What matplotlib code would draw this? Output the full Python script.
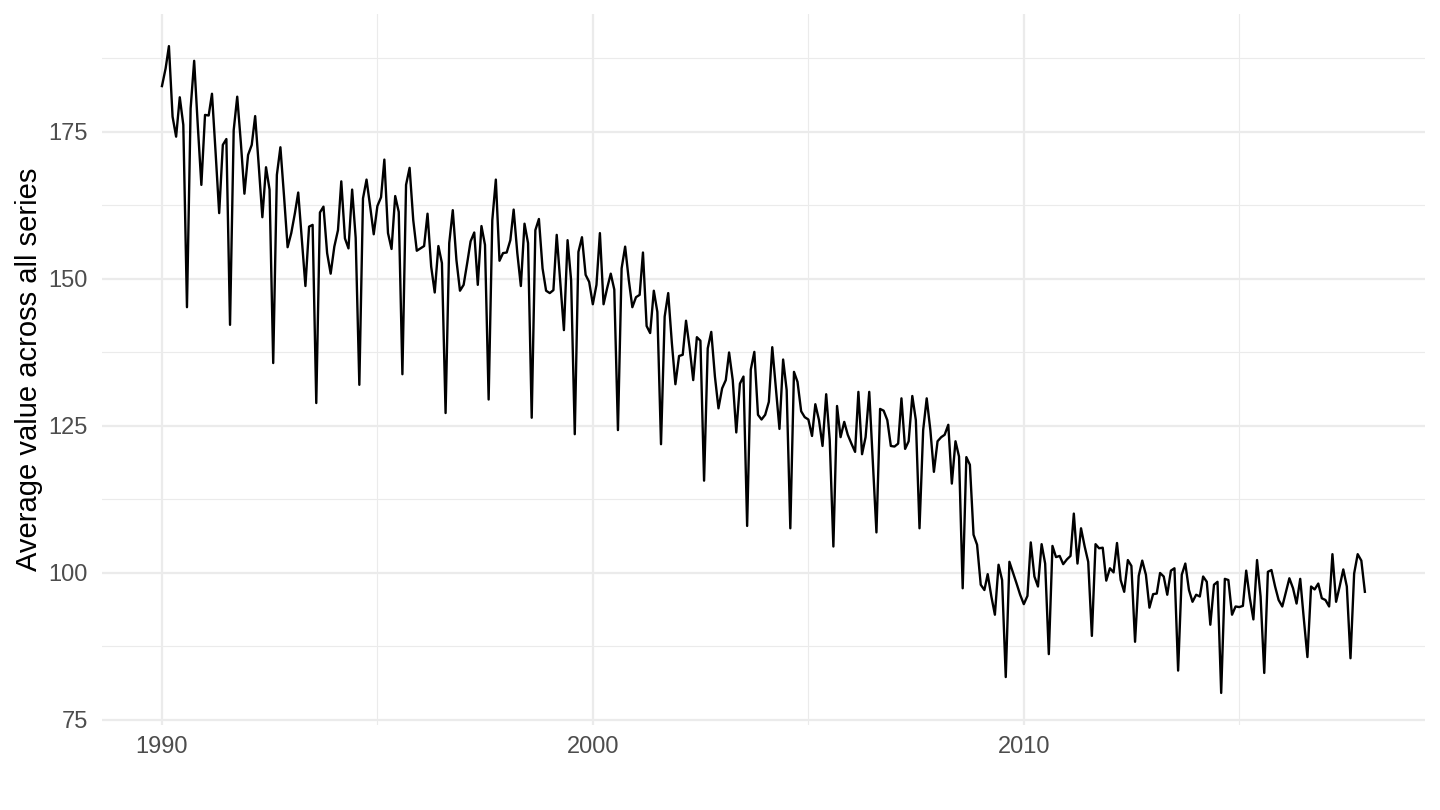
import numpy as np
import pandas as pd
import matplotlib.pyplot as plt

plt.rcParams["font.family"] = ["Liberation Sans", "DejaVu Sans"]

# monthly averages, Jan 1990 - Dec 2017
y1990 = [182.8, 185.8, 189.6, 177.6, 174.2, 180.9, 176.2, 145.2, 179.0, 187.1, 176.0, 166.0]
y1991 = [177.9, 177.8, 181.5, 171.4, 161.2, 172.8, 173.8, 142.2, 175.3, 181.0, 173.1, 164.5]
y1992 = [171.1, 172.8, 177.7, 169.1, 160.5, 169.0, 165.2, 135.7, 167.7, 172.4, 164.0, 155.4]
y1993 = [157.8, 161.2, 164.7, 156.6, 148.8, 158.9, 159.2, 128.9, 161.3, 162.3, 154.4, 150.9]
y1994 = [155.5, 158.3, 166.6, 156.9, 155.2, 165.2, 157.0, 132.0, 163.7, 166.9, 162.3, 157.6]
y1995 = [162.4, 163.9, 170.3, 157.8, 155.1, 164.1, 161.4, 133.8, 166.0, 168.9, 160.0, 154.8]
y1996 = [155.2, 155.6, 161.1, 152.1, 147.7, 155.6, 152.7, 127.2, 156.1, 161.7, 153.2, 148.0]
y1997 = [149.0, 152.8, 156.4, 157.9, 149.0, 159.0, 155.8, 129.5, 160.0, 166.9, 153.1, 154.4]
y1998 = [154.5, 156.6, 161.8, 154.4, 148.8, 159.4, 156.1, 126.4, 158.3, 160.2, 151.8, 148.0]
y1999 = [147.6, 148.1, 157.5, 149.3, 141.3, 156.6, 149.8, 123.6, 154.6, 157.1, 150.7, 149.5]
y2000 = [145.7, 149.0, 157.8, 145.7, 148.4, 150.9, 148.2, 124.3, 151.8, 155.5, 149.8, 145.2]
y2001 = [146.9, 147.3, 154.5, 142.0, 140.8, 148.0, 144.4, 121.9, 143.6, 147.6, 139.1, 132.1]
y2002 = [136.9, 137.1, 142.9, 138.2, 132.8, 140.1, 139.5, 115.7, 138.2, 141.0, 133.4, 128.0]
y2003 = [131.4, 132.8, 137.5, 132.8, 123.9, 132.2, 133.4, 108.0, 134.6, 137.6, 126.9, 126.1]
y2004 = [126.9, 129.1, 138.4, 131.4, 124.5, 136.3, 131.1, 107.6, 134.2, 132.5, 127.5, 126.5]
y2005 = [126.1, 123.3, 128.7, 126.0, 121.6, 130.4, 122.6, 104.5, 128.4, 123.1, 125.7, 123.5]
y2006 = [122.0, 120.6, 130.8, 120.2, 123.1, 130.8, 119.2, 106.9, 127.9, 127.6, 126.0, 121.6]
y2007 = [121.5, 122.0, 129.7, 121.1, 122.4, 130.1, 126.0, 107.6, 124.3, 129.7, 124.3, 117.2]
y2008 = [122.4, 123.1, 123.5, 125.2, 115.2, 122.4, 119.8, 97.4, 119.7, 118.4, 106.5, 104.8]
y2009 = [98.0, 97.1, 99.8, 96.0, 92.9, 101.4, 98.8, 82.3, 101.9, 100.1, 98.2, 96.3]
y2010 = [94.7, 96.1, 105.2, 99.4, 97.7, 104.9, 101.6, 86.2, 104.6, 102.7, 102.9, 101.5]
y2011 = [102.3, 102.9, 110.1, 101.6, 107.6, 104.5, 101.9, 89.3, 104.9, 104.2, 104.3, 98.7]
y2012 = [100.8, 100.1, 105.1, 98.8, 96.8, 102.2, 101.2, 88.3, 99.5, 102.1, 99.7, 94.1]
y2013 = [96.4, 96.5, 100.0, 99.4, 96.3, 100.4, 100.8, 83.4, 99.7, 101.6, 97.1, 95.1]
y2014 = [96.3, 96.0, 99.4, 98.5, 91.2, 98.0, 98.5, 79.6, 99.0, 98.8, 92.9, 94.3]
y2015 = [94.2, 94.4, 100.4, 95.7, 92.1, 102.2, 96.0, 83.0, 100.2, 100.5, 97.7, 95.4]
y2016 = [94.3, 96.8, 99.1, 97.4, 94.8, 99.0, 92.3, 85.7, 97.7, 97.2, 98.2, 95.7]
y2017 = [95.4, 94.3, 103.2, 95.1, 97.7, 100.6, 97.7, 85.5, 99.9, 103.2, 102.1, 96.8]

values = (y1990 + y1991 + y1992 + y1993 + y1994 + y1995 + y1996 + y1997 + y1998 + y1999
          + y2000 + y2001 + y2002 + y2003 + y2004 + y2005 + y2006 + y2007 + y2008 + y2009
          + y2010 + y2011 + y2012 + y2013 + y2014 + y2015 + y2016 + y2017)
dates = pd.date_range("1990-01-01", periods=len(values), freq="MS")

x_major = [1990, 2000, 2010]
x_minor = [1995, 2005, 2015]
y_major = [75, 100, 125, 150, 175]
y_minor = [87.5, 112.5, 137.5, 162.5, 187.5]

fig = plt.figure(figsize=(14.4, 8.1), dpi=100)
ax = fig.add_axes([0.0707, 0.1046, 0.9189, 0.8784])

ax.plot(dates, values, color="black", lw=1.7, zorder=3)

# ggplot-like 5% expansion
span = dates[-1] - dates[0]
ax.set_xlim(dates[0] - span * 0.05, dates[-1] + span * 0.05)
lo, hi = min(values), max(values)
ax.set_ylim(lo - (hi - lo) * 0.05, hi + (hi - lo) * 0.05)

ax.set_xticks([pd.Timestamp(f"{y}-01-01") for y in x_major])
ax.set_xticklabels([str(y) for y in x_major])
ax.set_xticks([pd.Timestamp(f"{y}-01-01") for y in x_minor], minor=True)
ax.set_yticks(y_major)
ax.set_yticks(y_minor, minor=True)

ax.grid(True, which="major", color="#EBEBEB", lw=1.6)
ax.grid(True, which="minor", color="#EBEBEB", lw=0.8)
ax.set_axisbelow(True)
for s in ax.spines.values():
    s.set_visible(False)
ax.tick_params(which="both", length=0, labelsize=17, labelcolor="#4D4D4D")
ax.tick_params(axis="x", pad=8)
ax.tick_params(axis="y", pad=10)

ax.set_ylabel("Average value across all series", fontsize=21, labelpad=4)

fig.savefig("out.png", dpi=100)
